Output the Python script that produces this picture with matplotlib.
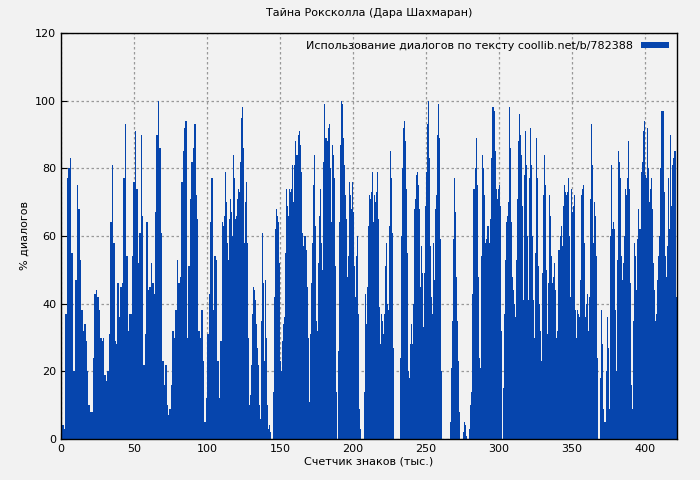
import numpy as np
import matplotlib
matplotlib.use("Agg")
import matplotlib.pyplot as plt

seg1 = [2,4,3,37,77,80,83,55,20,20,47,75,68,53,38,32,34,29,20,10,8,8,24,43,44,42,38,30,29,30,
        19,17,20,31,64,81,58,29,28,46,36,45,46,77,93,54,32,37,37,54,76,91,74,52,61,90,66,22,31,64,
        44,45,52,46,43,67,90,100,86,61,23,16,22,10,7,9,16,32,30,38,53,46,48,76,85,92,94,30,51,71,
        82,86,93,72,65,32,30,38,23,5,12,31,43,64,77,38,54,53,23,12,29]
seg2 = [64,63,66,79,70,58,53,65,71,67,60,84,77,65,66,71,74,73,82,95,98,86,58,70,76,58,30,10,13,22,
        37,45,44,41,34,27,22,10,6,35,61,46,23,47,30,10,3,4,2,0,14,42,62,68,66,64,52,23,20,29,
        34,36,55,74,69,66,74,73,74,81,70,81,88,84,84,90,91,87,79,61,57,60,60,56,45,30,11,31,46,58,
        75,84,63,35,32,52,66,74,58,50,82,99,89,88,92,93,80,64,87,84,77,51,14,0,26,64,87,100,99,89,
        81,72,65,48,54,76,72,68,76,67,51,42,54,60,37,9,3,0,0,0,14,43,34,45,63,72,71,73,79]
seg3 = [64,72,70,73,79,65,39,28,37,35,31,37,51,58,40,38,63,85,77,61,27,0,0,0,0,0,24,60,80,92,
        94,88,74,55,20,18,28,34,28,40,68,71,78,79,75,68,45,57,49,33,49,69,79,93,100,83,57,42,37,58,
        47,68,72,90,99,89,59,20,0,0,0,0,0,0,0,0,5,21,35,59,77,67,48,35,23,8,0,0,0,2,
        5,4,1,0,0,3,10,14,43,74,74,80,89,75,48,24,21,54,84,80,72,58,59,63,63,58,65,83,98,98,
        97,85,74,71,74,75,69,32,0,15,37,53,64,66,70,98,86,64,48,44,40,36,53,71,88,96,90,84,69,41,
        78,91,81,60]
seg4 = [41,77,92,81,60,41,30,55,89,77,51,40,32,23,49,72,84,75,50,31,46,72,66,54,46,48,52,44,30,32,
        56,56,60,63,57,69,75,73,72,73,77,60,42,74,67,69,72,38,30,38,37,36,47,72,74,75,58,36,40,43,
        32,42,71,93,81,58,70,66,54,24,0,0,18,38,28,9,5,5,20,36,27,9,20,60,81,62,64,62,38,20,
        53,85,82,77,54,47,52,60,74,72,77,88,74,46,16,9,35,58,54,44,59,68,62,62,79,82,91,94,78,77,
        92,80,70,74,77,68,52,44,35,37,47,54,60,80,97,97,97,73,54,48,57,77,62,90,69,81,83,85,85,42]
segments = [(0, 110, seg1), (110, 214, seg2), (214, 320, seg3), (320, 422, seg4)]

title = "Тайна Роксколла (Дара Шахмаран)"
xlabel = "Счетчик знаков (тыс.)"
ylabel = "% диалогов"
legend_label = "Использование диалогов по тексту coollib.net/b/782388"
bar_color = "#0645ad"

plt.rcParams['font.family'] = ['DejaVu Sans']
fig = plt.figure(figsize=(7, 4.8), dpi=100, facecolor="#f2f2f2")
ax = fig.add_axes([61/700, 1-439/480, 616/700, 406/480])
ax.set_facecolor("#f2f2f2")

first = True
for a, b, vals in segments:
    n = len(vals)
    w = (b - a) / n
    xs = a + w * (np.arange(n) + 0.5)
    ax.bar(xs, vals, width=w, color=bar_color, linewidth=0,
           label=legend_label if first else None)
    first = False

ax.set_xlim(0, 422)
ax.set_ylim(0, 120)
ax.set_xticks([0, 50, 100, 150, 200, 250, 300, 350, 400])
ax.set_yticks([0, 20, 40, 60, 80, 100, 120])
ax.grid(True, color="#999999", linestyle=(0, (2, 2)), linewidth=0.9)
ax.set_axisbelow(True)
ax.tick_params(direction="in", labelsize=8, length=4)
for s in ax.spines.values():
    s.set_linewidth(1)
ax.set_title(title, fontsize=8, pad=12)
ax.set_xlabel(xlabel, fontsize=8, labelpad=2)
ax.set_ylabel(ylabel, fontsize=8)
leg = ax.legend(loc="upper right", fontsize=8, frameon=False, markerfirst=False,
                handlelength=2.5, handleheight=0.5, borderaxespad=0.3)
fig.savefig("out.png", dpi=100, facecolor=fig.get_facecolor())
